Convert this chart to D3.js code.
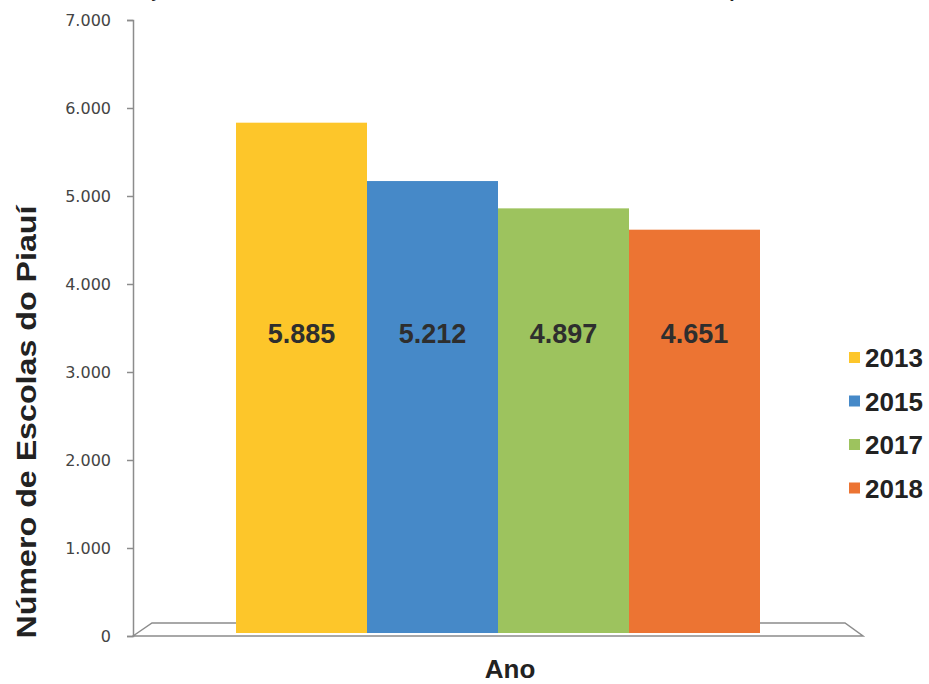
<!doctype html>
<html lang="pt">
<head>
	<meta charset="UTF-8">
	<title>Escolas do Piauí</title>
	<script src="https://d3js.org/d3.v7.min.js"></script>
	<style>
		body { margin: 0; background: #fff; }
		svg { display: block; }
	</style>
</head>
<body>
	<div id="chart"></div>
	<script>
		// data
		var anos = ['2013', '2015', '2017', '2018']
		var escolas = [5885, 5212, 4897, 4651]
		var cores = ['#fdc62a', '#4689c8', '#9dc35e', '#ec7433']
		var yTicks = [0, 1000, 2000, 3000, 4000, 5000, 6000, 7000]

		var w = 929, h = 684

		var svg = d3.select('#chart').append('svg')
			.attr('width', w)
			.attr('height', h)

		var ptBR = d3.formatLocale({ decimal: ',', thousands: '.', grouping: [3], currency: ['R$', ''] })
		var fmt = ptBR.format(',d')

		// scales: axis labels sit on the front edge, bars on the 3d floor
		var yAxis = d3.scaleLinear().domain([0, 7000]).range([636, 20])
		var yBar = d3.scaleLinear().domain([0, 7000]).range([633, 26])
		var x = d3.scaleBand().domain(anos).range([236, 760]).padding(0)

		// title (cut off at top of the picture, as in the original)
		svg.append('text')
			.attr('x', 470)
			.attr('y', -3)
			.attr('text-anchor', 'middle')
			.style('font-family', 'Liberation Sans, Arial, sans-serif')
			.style('font-weight', 'bold')
			.style('font-size', '19px')
			.attr('fill', '#222')
			.text('Gráfico 1: Evolução do número de escolas do Piauí com ensino fundamental no período de 2013 a 2018')

		// floor of the 3d plot
		var floor = [[133, 636], [152, 623], [845, 623], [863, 636]]
		svg.append('polygon')
			.attr('points', floor.map(function (p) { return p.join(',') }).join(' '))
			.attr('fill', '#fff')
			.attr('stroke', '#8c8c8c')
			.attr('stroke-width', 1.5)

		// y axis
		var ax = svg.append('g')
			.attr('transform', 'translate(133,0)')
			.call(d3.axisLeft(yAxis).tickValues(yTicks).tickFormat(function (d) { return d === 0 ? '0' : fmt(d) })
				.tickSize(6).tickSizeOuter(6).tickPadding(16))
		ax.selectAll('path, line').attr('stroke', '#8c8c8c').attr('stroke-width', 1.5)
		ax.selectAll('text')
			.style('font-family', 'DejaVu Sans, sans-serif')
			.style('font-size', '16px')
			.attr('fill', '#444')

		// bars
		svg.selectAll('rect.bar')
			.data(escolas)
			.join('rect')
			.attr('class', 'bar')
			.attr('x', function (d, i) { return x(anos[i]) })
			.attr('y', function (d) { return yBar(d) })
			.attr('width', x.bandwidth())
			.attr('height', function (d) { return yBar(0) - yBar(d) })
			.attr('fill', function (d, i) { return cores[i] })

		// value labels
		svg.selectAll('text.val')
			.data(escolas)
			.join('text')
			.attr('class', 'val')
			.attr('x', function (d, i) { return x(anos[i]) + x.bandwidth() / 2 })
			.attr('y', 343)
			.attr('text-anchor', 'middle')
			.style('font-family', 'Liberation Sans, Arial, sans-serif')
			.style('font-weight', 'bold')
			.style('font-size', '27px')
			.attr('fill', '#2e2e2e')
			.text(function (d) { return fmt(d) })

		// axis titles
		svg.append('text')
			.attr('transform', 'translate(36,422) rotate(-90) scale(1.15,1)')
			.attr('text-anchor', 'middle')
			.style('font-family', 'Liberation Sans, Arial, sans-serif')
			.style('font-weight', 'bold')
			.style('font-size', '28px')
			.attr('fill', '#222')
			.text('Número de Escolas do Piauí')

		svg.append('text')
			.attr('x', 510)
			.attr('y', 678)
			.attr('text-anchor', 'middle')
			.style('font-family', 'Liberation Sans, Arial, sans-serif')
			.style('font-weight', 'bold')
			.style('font-size', '26px')
			.attr('fill', '#222')
			.text('Ano')

		// legend
		var leg = svg.selectAll('g.leg')
			.data(anos)
			.join('g')
			.attr('class', 'leg')
			.attr('transform', function (d, i) { return 'translate(849,' + (357 + i * 43.5) + ')' })

		leg.append('rect')
			.attr('x', 0)
			.attr('y', -5)
			.attr('width', 11)
			.attr('height', 11)
			.attr('fill', function (d, i) { return cores[i] })

		leg.append('text')
			.attr('x', 16)
			.attr('y', 10)
			.style('font-family', 'Liberation Sans, Arial, sans-serif')
			.style('font-weight', 'bold')
			.style('font-size', '26px')
			.attr('fill', '#222')
			.text(function (d) { return d })
	</script>
</body>
</html>
